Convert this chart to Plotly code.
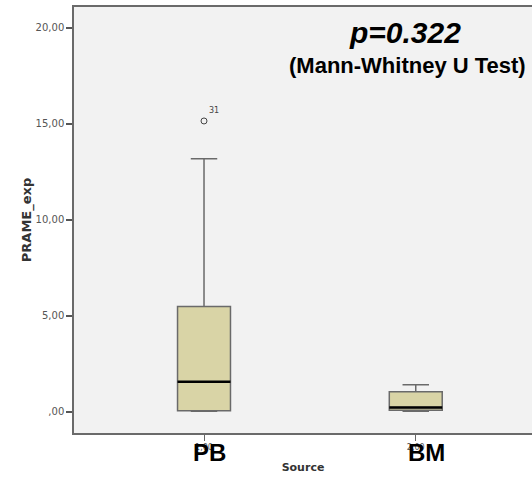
import plotly.graph_objects as go

# Data
groups = ["PB", "BM"]
group_pos = [1, 2]
group_codes = ["1,00", "2,00"]
q1 = [0.05, 0.07]
median = [1.56, 0.22]
q3 = [5.48, 1.04]
lower = [0.02, 0.02]
upper = [13.18, 1.40]
outlier_x = [1]
outlier_y = [15.15]
outlier_ids = ["31"]
yticks = [0, 5, 10, 15, 20]
yticklabels = [",00", "5,00", "10,00", "15,00", "20,00"]

box_w = 0.25
fig = go.Figure()
fig.add_trace(go.Box(
    x=group_pos, q1=q1, median=median, q3=q3,
    lowerfence=lower, upperfence=upper,
    width=box_w, whiskerwidth=0.5, boxpoints=False,
    fillcolor="#D9D4A6", line=dict(color="#6a6a6a", width=1.5),
    showlegend=False, hoverinfo="skip",
))
for xp, m in zip(group_pos, median):
    fig.add_trace(go.Scatter(
        x=[xp - box_w / 2, xp + box_w / 2], y=[m, m], mode="lines",
        line=dict(color="black", width=2.5), showlegend=False, hoverinfo="skip",
    ))
fig.add_trace(go.Scatter(
    x=outlier_x, y=outlier_y, mode="markers",
    marker=dict(symbol="circle-open", size=6, color="#444444", line=dict(width=1)),
    showlegend=False, hoverinfo="skip",
))
for xp, yp, lab in zip(outlier_x, outlier_y, outlier_ids):
    fig.add_annotation(x=xp, y=yp, text=lab, showarrow=False, xshift=10, yshift=10,
                       font=dict(family="DejaVu Sans", size=8, color="#444444"))

for xp, g, sh in zip(group_pos, groups, [5, 11]):
    fig.add_annotation(x=xp, y=0, yref="paper", yanchor="top", text="<b>%s</b>" % g,
                       showarrow=False, xshift=sh, yshift=-4,
                       font=dict(family="Arial, Liberation Sans", size=24, color="black"))

fig.add_annotation(x=0.722, y=0.939, xref="paper", yref="paper", text="<b><i>p=0.322</i></b>",
                   showarrow=False, xanchor="center", yanchor="middle",
                   font=dict(family="Arial, Liberation Sans", size=30, color="black"))
fig.add_annotation(x=0.728, y=0.862, xref="paper", yref="paper", text="<b>(Mann-Whitney U Test)</b>",
                   showarrow=False, xanchor="center", yanchor="middle",
                   font=dict(family="Arial, Liberation Sans", size=22, color="black"))

fig.update_layout(
    width=532, height=478,
    margin=dict(l=74, r=0, t=7, b=45),
    paper_bgcolor="white", plot_bgcolor="#F2F2F2",
    xaxis=dict(
        range=[0.386, 2.549], tickvals=group_pos, ticktext=group_codes,
        ticks="outside", ticklen=6, tickcolor="#666666", tickwidth=1,
        showline=True, linecolor="#6a6a6a", linewidth=1.5, mirror=True,
        showgrid=False, zeroline=False,
        tickfont=dict(family="DejaVu Sans", size=8, color="#555555"),
        title=dict(text="<b>Source</b>", standoff=12,
                   font=dict(family="DejaVu Sans", size=11, color="#333333")),
    ),
    yaxis=dict(
        range=[-1.11, 21.09], tickvals=yticks, ticktext=yticklabels,
        ticks="outside", ticklen=6, tickcolor="#555555", tickwidth=1.5,
        showline=True, linecolor="#6a6a6a", linewidth=1.5, mirror=False,
        showgrid=False, zeroline=False,
        tickfont=dict(family="DejaVu Sans", size=10, color="#555555"),
        title=dict(text="<b>PRAME_exp</b>", standoff=1,
                   font=dict(family="DejaVu Sans", size=13, color="#333333")),
    ),
)

fig.write_html("out.html")
